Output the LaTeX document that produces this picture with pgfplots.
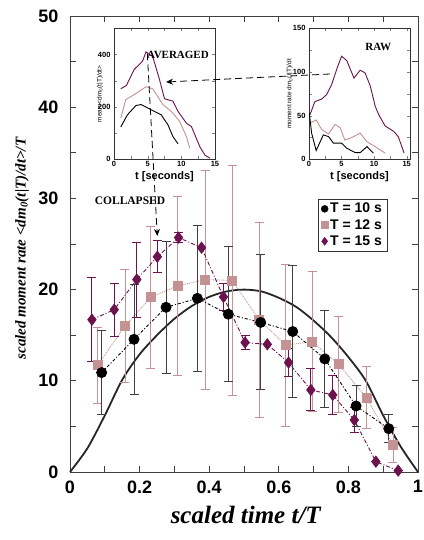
\documentclass[border=0pt]{standalone}
\usepackage{fontspec}
\setmainfont{Liberation Serif}
\setsansfont{Liberation Sans}
\usepackage{pgfplots}
\usepackage{pgfplotstable}
\pgfplotsset{compat=1.18}
\usetikzlibrary{arrows.meta}

\definecolor{pinkT}{RGB}{196,146,146}
\definecolor{plumT}{RGB}{108,18,78}

% collapsed curves: x = t/T, y = scaled rate, ey = error
\pgfplotstableread{
x y ey
0.091 10.9 4.6
0.184 14.55 6.05
0.276 18.06 7.2
0.366 19.04 8.0
0.455 17.3 7.4
0.548 16.4 7.4
0.640 15.4 7.2
0.732 12.4 5.3
0.822 7.24 2.2
0.916 4.75 1.55
}\tten
\pgfplotstableread{
x y ey
0.079 11.7 4.2
0.158 16.0 6.2
0.232 19.15 7.75
0.309 20.4 9.8
0.389 21.1 12.0
0.466 21.0 12.6
0.544 16.67 10.7
0.620 13.9 8.9
0.696 14.3 7.7
0.772 11.8 5.3
0.852 8.15 3.4
0.928 3.0 1.9
}\ttwelve
\pgfplotstableread{
x y ey
0.063 16.7 4.6
0.127 17.8 2.9
0.192 21.1 4.1
0.251 23.6 1.75
0.312 25.7 0.55
0.378 24.6 0
0.441 19.2 1.5
0.503 14.2 0.8
0.567 14.0 0
0.628 12.0 1.5
0.692 9.0 2.3
0.755 8.45 2.1
0.817 5.7 1.4
0.879 1.13 0
0.943 0.15 0
}\tfifteen

\begin{document}
\begin{tikzpicture}
\begin{axis}[
    at={(0pt,0pt)}, anchor=south west,
    scale only axis, width=348pt, height=456pt,
    xmin=0, xmax=1, ymin=0, ymax=50,
    clip=false,
    xtick={0,0.2,0.4,0.6,0.8,1},
    xticklabels={0,0.2,0.4,0.6,0.8,1},
    ytick={0,10,20,30,40,50},
    minor x tick num=1, minor y tick num=1,
    tick align=inside, major tick length=6pt, minor tick length=6pt,
    axis line style={black!75, line width=0.9pt},
    every tick/.style={black!75, line width=0.8pt},
    ticklabel style={font=\sffamily\bfseries\fontsize{18}{18}\selectfont},
    /pgf/number format/assume math mode=true,
    xticklabel style={yshift=-5pt},
    yticklabel style={xshift=-8pt},
    xlabel={scaled time t/T},
    xlabel style={font=\bfseries\itshape\fontsize{25}{25}\selectfont,
        at={(axis description cs:0.505,-0.094)}, anchor=center},
    ylabel={scaled moment rate <dm\textsubscript{0}(t|T)/dt>/T},
    ylabel style={font=\bfseries\itshape\fontsize{15}{15}\selectfont,
        at={(axis description cs:-0.138,0.49)}, anchor=center},
    legend style={at={(0.7126,0.5987)}, anchor=north west,
        font=\sffamily\bfseries\fontsize{14}{14}\selectfont,
        draw=black!80, fill=white, inner xsep=3pt, inner ysep=2pt,
        row sep=1pt},
    legend cell align=left,
]
\addlegendimage{only marks, mark=*, black, mark size=3.5pt}
\addlegendentry{T = 10 s}
\addlegendimage{only marks, mark=square*, pinkT, mark size=3.5pt}
\addlegendentry{T = 12 s}
\addlegendimage{only marks, mark=diamond*, plumT, mark size=4pt}
\addlegendentry{T = 15 s}

\addplot[black!85, line width=1.8pt, smooth, forget plot] coordinates {
    (0,0) (0.05,2.6) (0.1,6.2) (0.15,10.1) (0.2,12.9) (0.25,15.0)
    (0.3,16.8) (0.35,18.2) (0.4,19.2) (0.45,19.8) (0.5,20.0) (0.55,19.8)
    (0.6,19.1) (0.65,18.1) (0.7,16.6) (0.75,14.8) (0.8,12.6) (0.85,10.0)
    (0.9,6.2) (0.95,2.8) (1,0)
};

\addplot[pinkT, line width=0.9pt, densely dotted, mark=square*, mark size=4.5pt,
    mark options={solid}, forget plot,
    error bars/.cd, y dir=both, y explicit,
    error bar style={solid, line width=0.8pt},
    error mark options={solid, rotate=90, mark size=4.5pt, line width=0.8pt}]
    table[x=x, y=y, y error=ey] {\ttwelve};

\addplot[plumT, line width=0.9pt, dash pattern=on 4pt off 2pt on 1pt off 2pt,
    mark=diamond*, mark size=5.5pt, mark options={solid}, forget plot,
    error bars/.cd, y dir=both, y explicit,
    error bar style={solid, line width=0.9pt},
    error mark options={solid, rotate=90, mark size=4.5pt, line width=0.9pt}]
    table[x=x, y=y, y error=ey] {\tfifteen};

\addplot[black, line width=0.9pt, dash pattern=on 3pt off 2pt on 1pt off 2pt,
    mark=*, mark size=5pt, mark options={solid}, forget plot,
    error bars/.cd, y dir=both, y explicit,
    error bar style={solid, black!75, line width=0.9pt},
    error mark options={solid, black!75, rotate=90, mark size=4.5pt, line width=0.9pt}]
    table[x=x, y=y, y error=ey] {\tten};
\end{axis}

% inset: averaged curves
\begin{axis}[
    at={(44pt,312.7pt)}, anchor=south west,
    scale only axis, width=101pt, height=131pt,
    xmin=0, xmax=15, ymin=0, ymax=500,
    xtick={0,5,10,15}, ytick={0,200,400},
    minor x tick num=1, minor y tick num=1,
    tick align=inside, major tick length=3pt, minor tick length=3pt,
    axis background/.style={fill=white},
    axis line style={black!80, line width=0.7pt},
    ticklabel style={font=\sffamily\bfseries\fontsize{7.5}{7.5}\selectfont},
    /pgf/number format/assume math mode=true,
    xticklabel style={yshift=1.5pt},
    xlabel={t [seconds]},
    xlabel style={font=\sffamily\bfseries\fontsize{11}{11}\selectfont,
        at={(axis description cs:0.5,-0.135)}, anchor=center},
    ylabel={mean <dm\textsubscript{0}(t|T)/dt>},
    ylabel style={font=\sffamily\fontsize{6.5}{6.5}\selectfont,
        at={(axis description cs:-0.14,0.5)}, anchor=center},
]
\addplot[plumT, line width=0.9pt] coordinates {
    (1,269) (1.85,282) (3,343) (4.25,375) (4.75,410) (5.75,392) (6.75,305)
    (7.5,231) (8.75,222) (9.5,183) (10.75,138) (11.5,125) (12.75,48)
    (13.5,16) (14.25,4)
};
\addplot[pinkT, line width=0.9pt] coordinates {
    (1,157) (1.75,228) (3,247) (4.75,277) (5.75,269) (7.25,209) (8.5,183)
    (9.75,145) (10.75,87) (11.25,42)
};
\addplot[black, line width=0.9pt] coordinates {
    (1,123) (2,170) (3.25,205) (4,209) (5,196) (6,183) (7,170) (8,132)
    (8.75,87) (9.5,59)
};
\end{axis}

% inset: raw curves
\begin{axis}[
    at={(239pt,312.7pt)}, anchor=south west,
    scale only axis, width=101pt, height=131pt,
    xmin=0, xmax=15.5, ymin=0, ymax=150,
    xtick={0,5,10,15}, ytick={0,50,100,150},
    minor x tick num=1, minor y tick num=1,
    tick align=inside, major tick length=3pt, minor tick length=3pt,
    axis background/.style={fill=white},
    axis line style={black!80, line width=0.7pt},
    ticklabel style={font=\sffamily\bfseries\fontsize{7.5}{7.5}\selectfont},
    /pgf/number format/assume math mode=true,
    xticklabel style={yshift=1.5pt},
    xlabel={t [seconds]},
    xlabel style={font=\sffamily\bfseries\fontsize{11}{11}\selectfont,
        at={(axis description cs:0.5,-0.135)}, anchor=center},
    ylabel={moment rate dm\textsubscript{0}(t|T)/dt},
    ylabel style={font=\sffamily\fontsize{6.5}{6.5}\selectfont,
        at={(axis description cs:-0.19,0.5)}, anchor=center},
]
\addplot[plumT, line width=0.9pt] coordinates {
    (0.15,51) (0.9,66) (1.95,69) (2.7,74) (3.5,86) (4.25,103) (5.0,118)
    (5.8,113) (6.9,93) (7.85,102) (8.6,99) (9.4,84) (10.15,61) (10.7,51)
    (11.7,38) (13,32) (13.7,26) (14.6,7)
};
\addplot[pinkT, line width=0.9pt] coordinates {
    (0.15,41.5) (1.1,45) (1.95,34) (3.0,29) (4.0,40) (4.8,36) (5.5,22)
    (6.6,25) (7.85,30) (8.9,20) (10.15,14.5) (11.7,7)
};
\addplot[black, line width=0.9pt] coordinates {
    (0.05,53) (0.4,30) (1.1,10) (2.2,28) (3.0,26) (3.75,18.5) (5.0,18.5)
    (5.8,12.7) (7.1,7.6) (7.85,7.6) (8.9,14.5) (9.9,7)
};
\end{axis}

% annotations
\node[font=\bfseries\fontsize{11}{11}\selectfont] at (108pt,417pt) {AVERAGED};
\node[font=\bfseries\fontsize{11}{11}\selectfont] at (308.3pt,425.3pt) {RAW};
\node[font=\bfseries\fontsize{11.5}{11.5}\selectfont] at (60pt,271.3pt) {COLLAPSED};
\draw[black, line width=0.8pt, dash pattern=on 7pt off 4pt, -{Stealth[length=7pt,width=6pt]}]
    (77.3pt,418.7pt) -- (87.3pt,236pt);
\draw[black, line width=0.8pt, dash pattern=on 7pt off 4pt, -{Stealth[length=7pt,width=6pt]}]
    (260pt,398pt) -- (96pt,390pt);

\pgfresetboundingbox
\path[use as bounding box] (-70pt,-68pt) rectangle (353pt,472pt);
\end{tikzpicture}
\end{document}
